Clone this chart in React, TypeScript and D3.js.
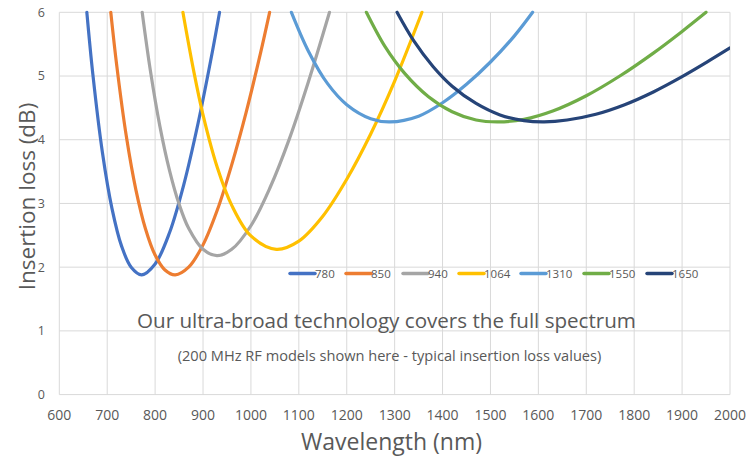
import React from "react";
import * as d3 from "d3";

const W = 748;
const H = 456;

const seriesNames = ["780", "850", "940", "1064", "1310", "1550", "1650"];
const seriesColors = ["#4472C4", "#ED7D31", "#A5A5A5", "#FFC000", "#5B9BD5", "#70AD47", "#264478"];

const wl780 = [657.5, 670, 690, 710, 730, 750, 772, 800, 830, 860, 890, 920, 934.5];
const loss780 = [6.0, 5.03, 3.8, 2.92, 2.33, 2.0, 1.88, 2.05, 2.54, 3.3, 4.27, 5.4, 6.0];

const wl850 = [707.5, 720, 740, 760, 780, 800, 820, 842, 870, 900, 930, 960, 990, 1020, 1039];
const loss850 = [6.0, 5.16, 4.05, 3.21, 2.6, 2.19, 1.96, 1.88, 2.0, 2.35, 2.9, 3.61, 4.43, 5.36, 6.0];

const wl940 = [773, 790, 810, 830, 850, 870, 900, 929, 960, 1000, 1040, 1080, 1120, 1164];
const loss940 = [6.0, 5.09, 4.21, 3.52, 2.99, 2.61, 2.28, 2.18, 2.28, 2.65, 3.25, 4.01, 4.91, 6.0];

const wl1064 = [858, 880, 900, 930, 960, 1000, 1053, 1100, 1150, 1200, 1250, 1300, 1357];
const loss1064 = [6.0, 5.1, 4.39, 3.56, 2.97, 2.49, 2.28, 2.41, 2.8, 3.38, 4.09, 4.92, 6.0];

const wl1310 = [1084.5, 1120, 1160, 1200, 1250, 1290, 1350, 1400, 1450, 1500, 1550, 1588];
const loss1310 = [6.0, 5.39, 4.88, 4.55, 4.33, 4.28, 4.37, 4.58, 4.87, 5.22, 5.63, 6.0];

const wl1550 = [1241, 1280, 1320, 1370, 1420, 1470, 1516, 1570, 1630, 1700, 1770, 1840, 1900, 1950];
const loss1550 = [6.0, 5.46, 5.05, 4.68, 4.44, 4.31, 4.28, 4.32, 4.45, 4.69, 5.0, 5.36, 5.7, 6.0];

const wl1650 = [1305, 1340, 1380, 1420, 1470, 1520, 1570, 1612, 1660, 1720, 1780, 1840, 1900, 1950, 2000];
const loss1650 = [6.0, 5.55, 5.15, 4.84, 4.57, 4.39, 4.3, 4.28, 4.31, 4.4, 4.55, 4.75, 4.99, 5.21, 5.44];

const seriesWl = [wl780, wl850, wl940, wl1064, wl1310, wl1550, wl1650];
const seriesLoss = [loss780, loss850, loss940, loss1064, loss1310, loss1550, loss1650];

const xTicks = [600, 700, 800, 900, 1000, 1100, 1200, 1300, 1400, 1500, 1600, 1700, 1800, 1900, 2000];
const yTicks = [0, 1, 2, 3, 4, 5, 6];

const legendX = [290, 346, 403, 459, 521, 584, 647];

const mainNote = "Our ultra-broad technology covers the full spectrum";
const subNote = "(200 MHz RF models shown here - typical insertion loss values)";

const FONT = "'Open Sans', 'Segoe UI', sans-serif";
const TEXT = "#595959";

export default function App() {
  const left = 59.3;
  const right = 730;
  const top = 12.3;
  const bottom = 394.6;

  const x = d3.scaleLinear().domain([600, 2000]).range([left, right]);
  const y = d3.scaleLinear().domain([0, 6]).range([bottom, top]);

  const line = d3
    .line<[number, number]>()
    .x((d) => x(d[0]))
    .y((d) => y(d[1]))
    .curve(d3.curveCatmullRom.alpha(0.5));

  return (
    <svg
      width={W}
      height={H}
      style={{ position: "absolute", left: 0, top: 0, display: "block", background: "#fff" }}
      fontFamily={FONT}
    >
      <defs>
        <clipPath id="plotClip">
          <rect x={left} y={top - 2} width={right - left} height={bottom - top + 2} />
        </clipPath>
      </defs>
      {/* grid */}
      {yTicks.map((t) => (
        <line key={"gy" + t} x1={left} x2={right} y1={y(t)} y2={y(t)} stroke="#d9d9d9" strokeWidth={1} />
      ))}
      {xTicks.map((t) => (
        <line key={"gx" + t} x1={x(t)} x2={x(t)} y1={top} y2={bottom} stroke="#d9d9d9" strokeWidth={1} />
      ))}
      {/* y tick labels */}
      {yTicks.map((t) => (
        <text key={"ty" + t} x={45} y={y(t)} dy="0.35em" textAnchor="end" fontSize={12.5} fill={TEXT}>
          {t}
        </text>
      ))}
      {/* x tick labels */}
      {xTicks.map((t) => (
        <text key={"tx" + t} x={x(t)} y={415.5} dy="0.35em" textAnchor="middle" fontSize={14} fill={TEXT}>
          {t}
        </text>
      ))}
      {/* annotations */}
      <text x={386.5} y={321} dy="0.35em" textAnchor="middle" fontSize={20.6} fill={TEXT}>
        {mainNote}
      </text>
      <text x={389.5} y={356} dy="0.35em" textAnchor="middle" fontSize={14.6} fill={TEXT}>
        {subNote}
      </text>
      {/* legend */}
      {seriesNames.map((n, i) => (
        <g key={"lg" + n}>
          <line x1={legendX[i]} x2={legendX[i] + 25} y1={273.5} y2={273.5} stroke={seriesColors[i]} strokeWidth={3.5} strokeLinecap="round" />
          <text x={legendX[i] + 25} y={273.5} dy="0.35em" fontSize={11.5} fill={TEXT}>
            {n}
          </text>
        </g>
      ))}
      {/* series */}
      <g clipPath="url(#plotClip)">
        {seriesNames.map((n, i) => {
          const pts: [number, number][] = seriesWl[i].map((w, j) => [w, seriesLoss[i][j]]);
          return (
            <path
              key={"s" + n}
              d={line(pts) || ""}
              fill="none"
              stroke={seriesColors[i]}
              strokeWidth={3.2}
              strokeLinecap="round"
              strokeLinejoin="round"
            />
          );
        })}
      </g>
      {/* axis titles */}
      <text x={391.5} y={441.5} dy="0.35em" textAnchor="middle" fontSize={23} fill={TEXT}>
        Wavelength (nm)
      </text>
      <text
        transform={`translate(27, 196.5) rotate(-90)`}
        dy="0.35em"
        textAnchor="middle"
        fontSize={22.5}
        fill={TEXT}
      >
        Insertion loss (dB)
      </text>
    </svg>
  );
}
